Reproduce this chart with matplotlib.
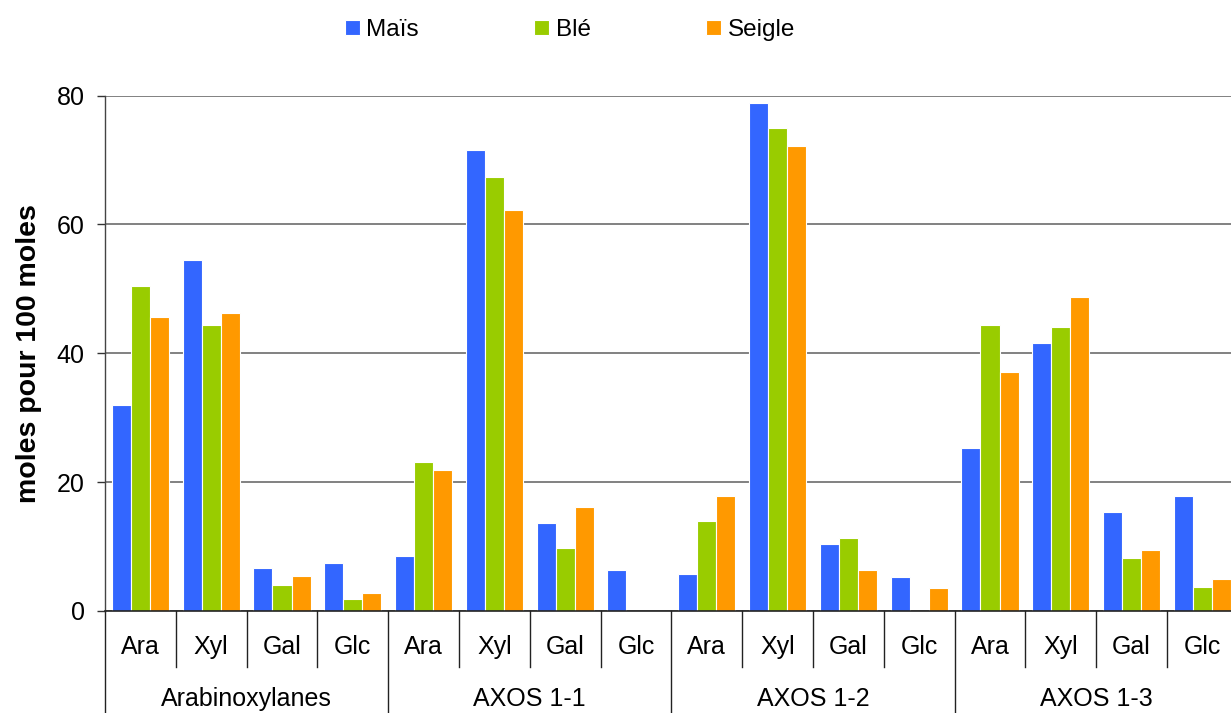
import matplotlib
matplotlib.use("Agg")
import matplotlib.pyplot as plt
import matplotlib.transforms as mtransforms
import numpy as np

plt.rcParams['font.family'] = ['Liberation Sans', 'DejaVu Sans']

# Sugar composition (moles per 100 moles) for each fraction
groups = ["Arabinoxylanes", "AXOS 1-1", "AXOS 1-2", "AXOS 1-3"]
sugars = ["Ara", "Xyl", "Gal", "Glc"]
series_names = ["Maïs", "Blé", "Seigle"]

mais = [32.0, 54.4, 6.7, 7.4,
        8.6, 71.6, 13.7, 6.4,
        5.8, 78.9, 10.4, 5.2,
        25.3, 41.6, 15.4, 17.9]
ble = [50.5, 44.4, 4.0, 1.9,
       23.1, 67.4, 9.8, 0.0,
       14.0, 75.0, 11.3, 0.0,
       44.4, 44.1, 8.2, 3.7]
seigle = [45.7, 46.2, 5.5, 2.8,
          21.9, 62.2, 16.2, 0.0,
          17.9, 72.2, 6.4, 3.6,
          37.1, 48.8, 9.4, 4.9]

yticks = [0, 20, 40, 60, 80]
colors = ["#3366FF", "#99CC00", "#FF9900"]

W, H = 1231, 713
fig = plt.figure(figsize=(W / 100, H / 100), dpi=100)
ax_left, ax_bottom = 105 / W, 1 - 611 / H
ax_w, ax_h = 16 * 70.8 / W, (611 - 95.5) / H
ax = fig.add_axes([ax_left, ax_bottom, ax_w, ax_h])

n_cat = len(groups) * len(sugars)
x = np.arange(n_cat)
bw = 0.27
for i, (vals, name) in enumerate(zip([mais, ble, seigle], series_names)):
    ax.bar(x + (i - 1) * bw, vals, width=bw, color=colors[i], label=name,
           edgecolor="white", linewidth=0.8, zorder=2)

fs = 18
ax.set_xlim(-0.5, n_cat - 0.5)
ax.set_ylim(0, 80)
ax.set_yticks(yticks)
ax.set_yticklabels([str(t) for t in yticks], fontsize=fs)
ax.tick_params(axis="y", length=6, width=1, color="#333333", pad=8.5)
ax.set_xticks([])
ax.grid(axis="y", color="#777777", linewidth=1.3, zorder=0)
ax.set_axisbelow(True)
for s in ["top", "right"]:
    ax.spines[s].set_visible(False)
ax.spines["left"].set_color("#444444")
ax.spines["bottom"].set_color("#222222")
ax.spines["left"].set_linewidth(1.0)
ax.spines["bottom"].set_linewidth(1.2)
for s in ax.spines.values():
    s.set_zorder(3)

ax.set_ylabel("moles pour 100 moles", fontsize=20.5, fontweight="bold",
              labelpad=11)

# Two-level category axis below the plot
trans = mtransforms.blended_transform_factory(ax.transData, ax.transAxes)
px = 1 / (611 - 95.5)
inner_bottom = -(666.5 - 611) * px
for k in range(n_cat + 1):
    xb = k - 0.5
    y_end = -0.3 if k % len(sugars) == 0 else inner_bottom
    ax.plot([xb, xb], [0, y_end], transform=trans, color="#222222",
            linewidth=1.0, clip_on=False)

for k in range(n_cat):
    ax.text(k, -(647 - 611) * px, sugars[k % len(sugars)], transform=trans,
            ha="center", va="center", fontsize=fs)
for g, name in enumerate(groups):
    xc = g * len(sugars) + (len(sugars) - 1) / 2
    ax.text(xc, -(699 - 611) * px, name, transform=trans,
            ha="center", va="center", fontsize=fs)

lfs = 17.5
fpx = lfs * 100 / 72
fig.legend(loc="center", bbox_to_anchor=(570 / W, 1 - 30 / H), ncol=3,
           frameon=False, fontsize=lfs, borderpad=0,
           handlelength=15 / fpx, handleheight=15 / fpx,
           handletextpad=7 / fpx, columnspacing=115 / fpx)

fig.savefig("out.png", dpi=100)
